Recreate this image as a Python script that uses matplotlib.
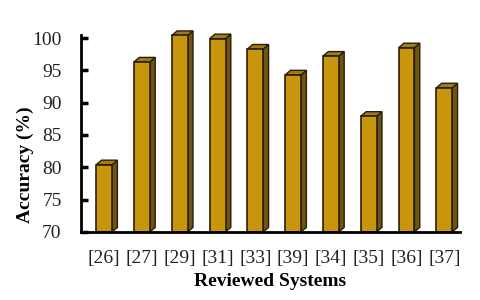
import numpy as np
import matplotlib.pyplot as plt
from matplotlib.patches import Polygon

systems = ['[26]', '[27]', '[29]', '[31]', '[33]', '[39]', '[34]', '[35]', '[36]', '[37]']
accuracy = [80.4, 96.3, 100.4, 99.9, 98.3, 94.3, 97.2, 87.9, 98.5, 92.3]

FRONT = '#C8960C'
SIDE = '#6E5410'
TOP = '#A07C18'
EDGE = '#2A1E05'

plt.rcParams['font.family'] = ['Liberation Serif', 'DejaVu Serif']

fig = plt.figure(figsize=(4.8, 3.0), dpi=100)
ax = fig.add_axes([0.169, 0.227, 0.789, 0.657])

x = np.arange(len(systems))
w = 0.42
dx = 0.14   # depth offset (data units)
dy = 0.7

ax.bar(x, [a - 70 for a in accuracy], bottom=70, width=w, color=FRONT,
       edgecolor=EDGE, linewidth=1.2, zorder=3, clip_on=False)

for xi, a in zip(x, accuracy):
    l, r = xi - w / 2, xi + w / 2
    side = Polygon([(r, 70), (r + dx, 70 + dy), (r + dx, a + dy), (r, a)],
                   closed=True, facecolor=SIDE, edgecolor=EDGE, linewidth=1.0,
                   zorder=2, clip_on=False)
    top = Polygon([(l, a), (l + dx, a + dy), (r + dx, a + dy), (r, a)],
                  closed=True, facecolor=TOP, edgecolor=EDGE, linewidth=1.0,
                  zorder=2, clip_on=False)
    ax.add_patch(side)
    ax.add_patch(top)

ax.set_xlim(-0.61, 9.41)
ax.set_ylim(70, 100.5)
ax.set_yticks([70, 75, 80, 85, 90, 95, 100])
ax.set_xticks(x)
ax.set_xticklabels(systems, fontsize=14, color='#222222')
ax.tick_params(axis='x', length=0, pad=13)
ax.tick_params(axis='y', direction='in', length=5, width=2.5, labelsize=14,
               labelcolor='#222222', pad=14)

for s in ['top', 'right']:
    ax.spines[s].set_visible(False)
ax.spines['left'].set_linewidth(2)
ax.spines['bottom'].set_linewidth(2)
ax.spines['bottom'].set_zorder(4)

ax.set_ylabel('Accuracy (%)', fontsize=14, fontweight='bold')
ax.yaxis.set_label_coords(-0.125, 0.34)
ax.set_xlabel('Reviewed Systems', fontsize=14, fontweight='bold', labelpad=4)

fig.savefig('out.png', dpi=100)
